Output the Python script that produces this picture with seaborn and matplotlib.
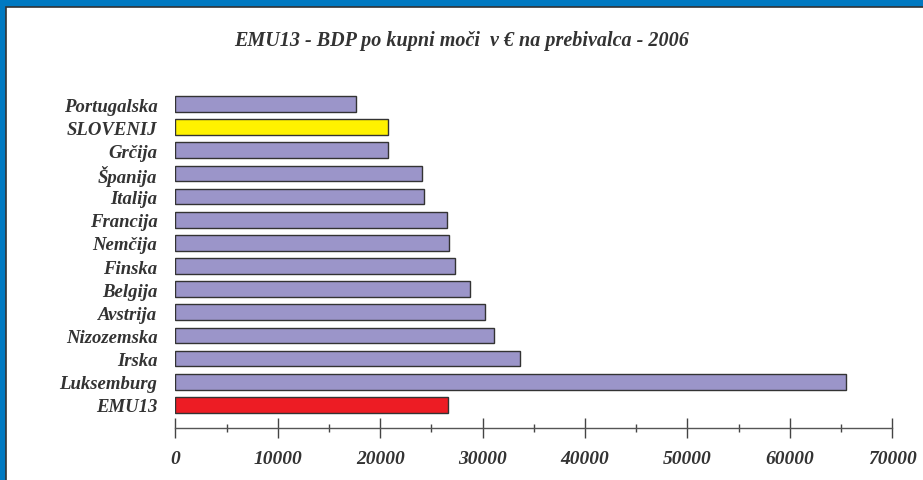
import matplotlib
matplotlib.use('Agg')
import matplotlib.pyplot as plt
import seaborn as sns
import pandas as pd
from matplotlib.patches import Rectangle

# values (BDP po kupni moči, EUR per capita, 2006)
countries = ['Portugalska', 'SLOVENIJ', 'Grčija', 'Španija', 'Italija', 'Francija',
             'Nemčija', 'Finska', 'Belgija', 'Avstrija', 'Nizozemska', 'Irska',
             'Luksemburg', 'EMU13']
gdp = [17600, 20800, 20800, 24100, 24300, 26500, 26700, 27300, 28800, 30200,
       31100, 33600, 65500, 26600]
bar_colors = ['#9b95c9', '#fff200', '#9b95c9', '#9b95c9', '#9b95c9', '#9b95c9',
              '#9b95c9', '#9b95c9', '#9b95c9', '#9b95c9', '#9b95c9', '#9b95c9',
              '#9b95c9', '#ed1c24']
xticks = [0, 10000, 20000, 30000, 40000, 50000, 60000, 70000]

df = pd.DataFrame({'drzava': countries, 'bdp': gdp})

sns.set_style('white')
plt.rcParams['font.family'] = ['Liberation Serif', 'DejaVu Serif']

fig = plt.figure(figsize=(9.23, 4.81), dpi=100)
fig.patch.set_facecolor('#0079c1')
# white panel with thin dark border (drawn behind the axes)
fig.patches.append(Rectangle((6/923, -0.01), 1.0, 1 - 8/481 + 0.01,
                             transform=fig.transFigure, facecolor='white',
                             edgecolor='#333333', linewidth=1.2, zorder=-5))

ax = fig.add_axes([175.4/923, 1 - 429/481, (892.3 - 175.4)/923, (429 - 86.5)/481])
ax.set_facecolor('none')
ax.set_zorder(2)

sns.barplot(data=df, x='bdp', y='drzava', hue='drzava', palette=bar_colors,
            saturation=1, legend=False, orient='h', width=0.68,
            edgecolor='#333333', linewidth=1.0, ax=ax)

ax.set_xlim(0, 70000)
ax.set_ylim(14, -0.8)
ax.set_xlabel('')
ax.set_ylabel('')

for s in ['top', 'right', 'left']:
    ax.spines[s].set_visible(False)
ax.spines['bottom'].set_color('#555555')
ax.spines['bottom'].set_linewidth(1.0)

ax.set_xticks(xticks)
ax.set_xticks(range(5000, 70000, 10000), minor=True)
ax.set_xticklabels([str(t) for t in xticks], fontsize=14, fontweight='bold',
                   fontstyle='italic', color='#333333')
ax.tick_params(axis='x', which='major', direction='inout', length=14, width=1,
               color='#444444', pad=9, bottom=True)
ax.tick_params(axis='x', which='minor', direction='inout', length=6, width=1,
               color='#444444', bottom=True)
ax.tick_params(axis='y', length=0, pad=13)
for lab in ax.get_yticklabels():
    lab.set_fontsize(13.5)
    lab.set_fontweight('bold')
    lab.set_fontstyle('italic')
    lab.set_color('#333333')

fig.text(462/923, 1 - 41/481, 'EMU13 - BDP po kupni moči  v € na prebivalca - 2006',
         ha='center', va='center', fontsize=14.5, fontweight='bold',
         fontstyle='italic', color='#333333')

fig.savefig('out.png', dpi=100, facecolor=fig.get_facecolor())
